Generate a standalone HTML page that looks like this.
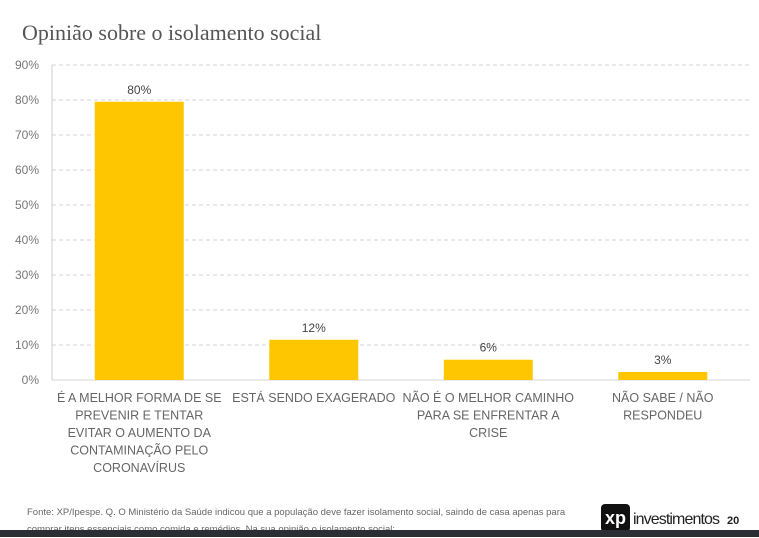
<!DOCTYPE html>
<html><head><meta charset="utf-8"><style>
body{margin:0;width:759px;height:537px;background:#fff;overflow:hidden;position:relative;font-family:"Liberation Sans",sans-serif}
.t{position:absolute}
</style></head><body>
<div class="t" style="left:22px;top:20px;font-family:'Liberation Serif',serif;font-size:22px;color:#555">Opinião sobre o isolamento social</div>
<svg id="c" width="759" height="480" style="position:absolute;left:0;top:0"></svg>
<div class="t" style="left:27px;top:504px;font-size:9.5px;color:#666;line-height:17px;width:560px">Fonte: XP/Ipespe. Q. O Ministério da Saúde indicou que a população deve fazer isolamento social, saindo de casa apenas para comprar itens essenciais como comida e remédios. Na sua opinião o isolamento social:</div>
<div class="t" style="left:601px;top:504px;width:29px;height:28px;background:#111;border-radius:4px;color:#fff;font-weight:bold;font-size:18px;line-height:28px;text-align:center">xp</div>
<div class="t" style="left:633px;top:511px;font-size:16px;color:#222;letter-spacing:-0.9px">investimentos</div>
<div class="t" style="left:727px;top:515px;font-size:11px;font-weight:bold;color:#222">20</div>
<div class="t" style="left:0;top:530px;width:759px;height:7px;background:#2b2e35"></div>
<script>
const categories=[["É A MELHOR FORMA DE SE","PREVENIR E TENTAR","EVITAR O AUMENTO DA","CONTAMINAÇÃO PELO","CORONAVÍRUS"],["ESTÁ SENDO EXAGERADO"],["NÃO É O MELHOR CAMINHO","PARA SE ENFRENTAR A","CRISE"],["NÃO SABE / NÃO","RESPONDEU"]];
const values=[79.5,11.5,5.8,2.3];
const valueLabels=["80%","12%","6%","3%"];
const ticks=[0,10,20,30,40,50,60,70,80,90];
const svg=document.getElementById('c');const NS="http://www.w3.org/2000/svg";
const x0=52,x1=750,y0=380,yTop=65;
const y=v=>y0-(v/90)*(y0-yTop);
const bw=(x1-x0)/categories.length;
const cx=i=>x0+bw*(i+0.5);
function mk(t,a,txt){const e=document.createElementNS(NS,t);for(const k in a)e.setAttribute(k,a[k]);if(txt!==undefined)e.textContent=txt;svg.appendChild(e);return e;}
ticks.forEach(v=>{
 const g=mk('line',{x1:x0,x2:x1,y1:y(v),y2:y(v),stroke:'#d6d6d6','stroke-dasharray':v?'4,3':'',});
 
 
 const t=mk('text',{x:39,y:y(v)+4,'text-anchor':'end','font-size':12,fill:'#777','font-family':'Liberation Sans'},v+'%');
 
 
});
const ax=mk('line',{x1:x0,x2:x0,y1:yTop,y2:y0,stroke:'#ccc'});


values.forEach((v,i)=>{
 const r=mk('rect',{x:cx(i)-44.5,y:y(v),width:89,height:y0-y(v),fill:'#fec600'});
 
 
 const l=mk('text',{x:cx(i),y:y(v)-8,'text-anchor':'middle','font-size':12,fill:'#444','font-family':'Liberation Sans'},valueLabels[i]);
 
 
 categories[i].forEach((s,j)=>{
  const c=mk('text',{x:cx(i),y:402+j*17.5,'text-anchor':'middle','font-size':12.5,fill:'#666','font-family':'Liberation Sans'},s);
  
  
 });
});
</script>
</body></html>
